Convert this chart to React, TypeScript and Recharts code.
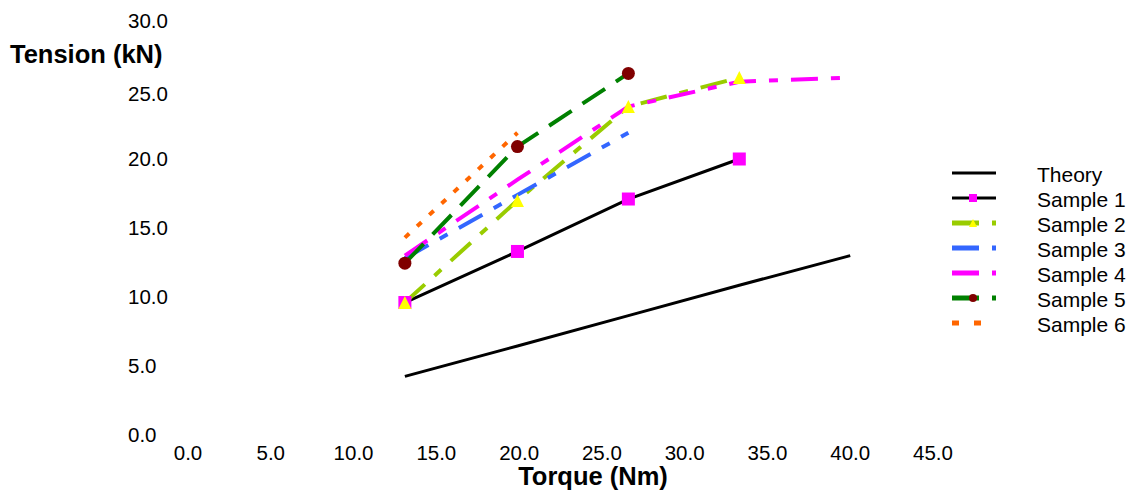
import { LineChart, Line, XAxis, YAxis, Legend, Label } from "recharts";

const torque = [13.1, 19.9, 26.6, 33.3, 40.0];
const theory = [4.25, 6.45, 8.65, 10.85, 13.0];
const sample1 = [9.6, 13.3, 17.1, 20.0];
const sample2 = [9.6, 17.0, 23.8, 25.9];
const sample3 = [12.8, 17.4, 21.9];
const sample4 = [13.0, 18.5, 23.8, 25.6, 25.9];
const sample5 = [12.45, 20.9, 26.2];
const sample6 = [14.3, 21.9];

const xTicks = [0, 5, 10, 15, 20, 25, 30, 35, 40, 45];
const yTicks = [0, 5, 10, 15, 20, 25, 30];

const FONT = '"Liberation Sans", Arial, Helvetica, sans-serif';

const toPoints = (vals: number[]) => vals.map((y, i) => ({ x: torque[i], y }));

const series = [
  { name: "Theory", color: "#000000", width: 3, dash: undefined, values: theory, marker: "none" },
  { name: "Sample 1", color: "#000000", width: 3, dash: undefined, values: sample1, marker: "square" },
  { name: "Sample 2", color: "#99cc00", width: 4, dash: "27 13 9 13", values: sample2, marker: "triangle" },
  { name: "Sample 3", color: "#3366ff", width: 4, dash: "27 13 9 13", values: sample3, marker: "none" },
  { name: "Sample 4", color: "#ff00ff", width: 4, dash: "27 13 9 13", values: sample4, marker: "none" },
  { name: "Sample 5", color: "#008000", width: 4, dash: "27 13", values: sample5, marker: "circle" },
  { name: "Sample 6", color: "#ff6600", width: 4, dash: "6 10.7", values: sample6, marker: "none" },
];

function Marker({ kind, cx, cy, size }: { kind: string; cx: number; cy: number; size: number }) {
  const h = size / 2;
  if (kind === "square")
    return <rect x={cx - h} y={cy - h} width={size} height={size} fill="#ff00ff" />;
  if (kind === "triangle")
    return (
      <polygon
        points={`${cx},${cy - h} ${cx + h},${cy + h} ${cx - h},${cy + h}`}
        fill="#ffff00"
      />
    );
  if (kind === "circle") return <circle cx={cx} cy={cy} r={h} fill="#800000" />;
  return null;
}

const makeDot = (kind: string) => (props: any) => (
  <g key={`${kind}-${props.index}`}>
    <Marker kind={kind} cx={props.cx} cy={props.cy} size={13} />
  </g>
);

const XTick = (props: any) => (
  <text x={props.x} y={props.y} dy="0.355em" textAnchor="middle" fontSize={20.5} fontFamily={FONT} fill="#000">
    {props.payload.value.toFixed(1)}
  </text>
);

// y labels are left-aligned in the original
const YTick = (props: any) => (
  <text
    x={props.x - 30}
    y={props.y + (props.payload.value === 25 ? 4 : 0)}
    dy="0.355em"
    textAnchor="start"
    fontSize={20.5}
    fontFamily={FONT}
    fill="#000"
  >
    {props.payload.value.toFixed(1)}
  </text>
);

function LegendBox() {
  return (
    <svg width={189} height={190}>
      {series.map((s, i) => {
        const y = 23 + i * 25;
        return (
          <g key={s.name}>
            <line
              x1={12}
              x2={56}
              y1={y}
              y2={y}
              stroke={s.color}
              strokeWidth={s.width === 3 ? 3 : 5}
              strokeDasharray={s.name === "Sample 6" ? "7 15" : s.dash}
            />
            <Marker kind={s.marker} cx={33} cy={y} size={8} />
            <text x={97} y={y + 9} fontSize={21} fontFamily={FONT} fill="#000">
              {s.name}
            </text>
          </g>
        );
      })}
    </svg>
  );
}

export default function App() {
  return (
    <div style={{ width: 1129, height: 490, overflow: "hidden" }}>
      <style>{`body{margin:0}`}</style>
      <LineChart width={1129} height={490} margin={{ top: 21, right: 196, bottom: 0, left: 0 }}>
        <XAxis
          dataKey="x"
          type="number"
          domain={[0, 45]}
          ticks={xTicks}
          axisLine={false}
          tickLine={false}
          tickSize={0}
          tickMargin={18}
          height={55}
          tick={<XTick />}
          interval={0}
        >
          <Label
            content={() => (
              <text x={593} y={485} textAnchor="middle" fontSize={25.5} fontWeight="bold" fontFamily={FONT} fill="#000">
                Torque (Nm)
              </text>
            )}
          />
        </XAxis>
        <YAxis
          dataKey="y"
          type="number"
          domain={[0, 30]}
          ticks={yTicks}
          axisLine={false}
          tickLine={false}
          tickSize={0}
          tickMargin={30}
          width={188}
          tick={<YTick />}
          interval={0}
        >
          <Label
            content={() => (
              <text x={10} y={63} textAnchor="start" fontSize={25.5} fontWeight="bold" fontFamily={FONT} fill="#000">
                Tension (kN)
              </text>
            )}
          />
        </YAxis>
        <Legend
          layout="horizontal"
          verticalAlign="middle"
          align="center"
          content={() => <LegendBox />}
          wrapperStyle={{ left: 940, top: 150, width: 189, height: 190 }}
        />
        {series.map((s) => (
          <Line
            key={s.name}
            data={toPoints(s.values)}
            dataKey="y"
            name={s.name}
            type="linear"
            stroke={s.color}
            strokeWidth={s.width}
            strokeDasharray={s.dash}
            dot={s.marker === "none" ? false : makeDot(s.marker)}
            activeDot={false}
            isAnimationActive={false}
          />
        ))}
      </LineChart>
    </div>
  );
}
